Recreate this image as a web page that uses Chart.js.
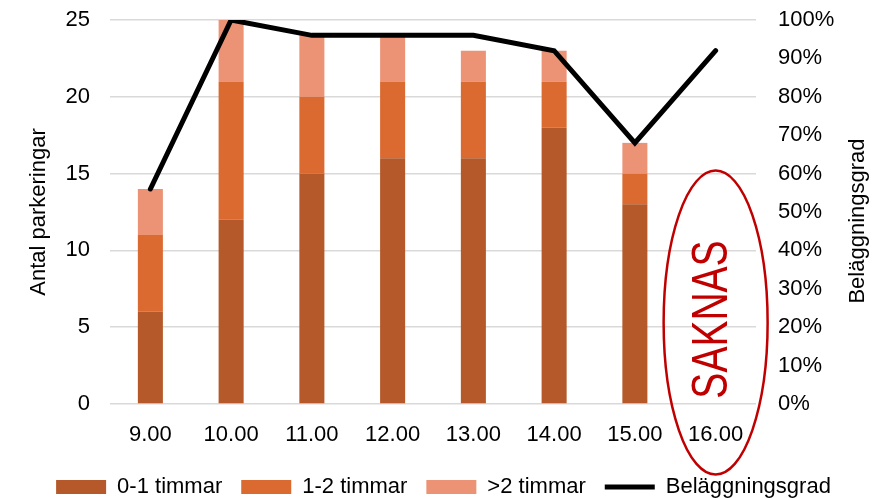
<!DOCTYPE html>
<html>
<head>
<meta charset="utf-8">
<script src="https://cdn.jsdelivr.net/npm/chart.js@4/dist/chart.umd.min.js"></script>
<style>
  html, body { margin: 0; padding: 0; background: #fff; }
  #wrap { width: 887px; height: 498px; }
</style>
</head>
<body>
<div id="wrap"><canvas id="chart" width="887" height="498"></canvas></div>
<script>
const labels = ['9.00', '10.00', '11.00', '12.00', '13.00', '14.00', '15.00', '16.00'];
const kort = [6, 12, 15, 16, 16, 18, 13, null];      // 0-1 timmar
const mellan = [5, 9, 5, 5, 5, 3, 2, null];         // 1-2 timmar
const lang = [3, 4, 4, 3, 2, 2, 2, null];           // >2 timmar
const belaggning = [56, 100, 96, 96, 96, 92, 68, 92]; // procent
const leftTicks = [0, 5, 10, 15, 20, 25];
const missingLabel = 'SAKNAS';
const missingIndex = 7;

const FONT = '"Liberation Sans", Arial, sans-serif';
const gridColor = '#d9d9d9';

// högeraxelns titel, ellips och "SAKNAS"
const extras = {
  id: 'extras',
  afterDraw(chart) {
    const ctx = chart.ctx;
    const x = chart.scales.x;
    const y = chart.scales.y;
    ctx.save();
    ctx.fillStyle = '#000';
    ctx.font = '22px ' + FONT;
    ctx.textAlign = 'center';
    ctx.textBaseline = 'middle';
    ctx.translate(858, (y.top + y.bottom) / 2 + 9);
    ctx.rotate(-Math.PI / 2);
    ctx.fillText('Beläggningsgrad', 0, 0);
    ctx.restore();

    const cx = x.getPixelForValue(missingIndex);
    const cy = y.getPixelForValue(5.3);
    ctx.save();
    ctx.strokeStyle = '#c00000';
    ctx.lineWidth = 2.5;
    ctx.beginPath();
    ctx.ellipse(cx, cy, 52, 152, 0, 0, Math.PI * 2);
    ctx.stroke();
    ctx.fillStyle = '#c00000';
    ctx.font = '50px ' + FONT;
    ctx.textAlign = 'center';
    ctx.textBaseline = 'middle';
    ctx.translate(cx - 2, y.getPixelForValue(5.5));
    ctx.rotate(-Math.PI / 2);
    ctx.scale(0.78, 1);
    ctx.fillText(missingLabel, 0, 0);
    ctx.restore();
  }
};

new Chart(document.getElementById('chart'), {
  type: 'bar',
  data: {
    labels: labels,
    datasets: [
      { label: '0-1 timmar', data: kort, backgroundColor: '#b5582a', stack: 's', order: 1, yAxisID: 'y' },
      { label: '1-2 timmar', data: mellan, backgroundColor: '#da6a2f', stack: 's', order: 1, yAxisID: 'y' },
      { label: '>2 timmar', data: lang, backgroundColor: '#ec9376', stack: 's', order: 1, yAxisID: 'y' },
      {
        type: 'line', label: 'Beläggningsgrad', data: belaggning, yAxisID: 'y1', order: 0,
        borderColor: '#000', backgroundColor: '#000', borderWidth: 5, pointRadius: 0,
        tension: 0, borderCapStyle: 'round', borderJoinStyle: 'miter'
      }
    ]
  },
  options: {
    responsive: false,
    animation: false,
    layout: { padding: { top: 20, left: 0, right: 0, bottom: -10 } },
    datasets: { bar: { categoryPercentage: 1, barPercentage: 0.31 } },
    plugins: {
      tooltip: { enabled: false },
      legend: {
        position: 'bottom',
        labels: {
          usePointStyle: true,
          pointStyleWidth: 50,
          boxHeight: 14,
          padding: 19,
          color: '#000',
          font: { family: FONT, size: 22 },
          generateLabels(chart) {
            const items = Chart.defaults.plugins.legend.labels.generateLabels(chart);
            items.sort((a, b) => a.datasetIndex - b.datasetIndex);
            items.forEach(it => {
              const ds = chart.data.datasets[it.datasetIndex];
              if (ds.type === 'line') { it.pointStyle = 'line'; it.lineWidth = 5; it.strokeStyle = '#000'; }
              else { it.pointStyle = 'rect'; it.lineWidth = 0; }
            });
            return items;
          }
        }
      }
    },
    scales: {
      x: {
        stacked: true,
        afterFit(s) { s.height = 53; },
        grid: { display: false },
        border: { display: false },
        ticks: { color: '#000', font: { family: FONT, size: 22 }, padding: 10 }
      },
      y: {
        stacked: true,
        min: 0, max: 25,
        afterFit(s) { s.width = 110; s.paddingTop = 0; s.paddingBottom = 0; },
        afterBuildTicks(s) { s.ticks = leftTicks.map(v => ({ value: v })); },
        grid: { color: gridColor, lineWidth: 1.5, drawTicks: false },
        border: { display: false },
        ticks: { color: '#000', font: { family: FONT, size: 22 }, padding: 20 },
        title: { display: true, text: 'Antal parkeringar', color: '#000', font: { family: FONT, size: 22 }, padding: { top: 26, bottom: 0 } }
      },
      y1: {
        position: 'right',
        min: 0, max: 100,
        afterFit(s) { s.width = 131; s.paddingTop = 0; s.paddingBottom = 0; },
        grid: { display: false, drawTicks: false },
        border: { display: false },
        ticks: { stepSize: 10, color: '#000', font: { family: FONT, size: 22 }, padding: 22, callback: v => v + '%' }
      }
    }
  },
  plugins: [extras]
});
</script>
</body>
</html>
